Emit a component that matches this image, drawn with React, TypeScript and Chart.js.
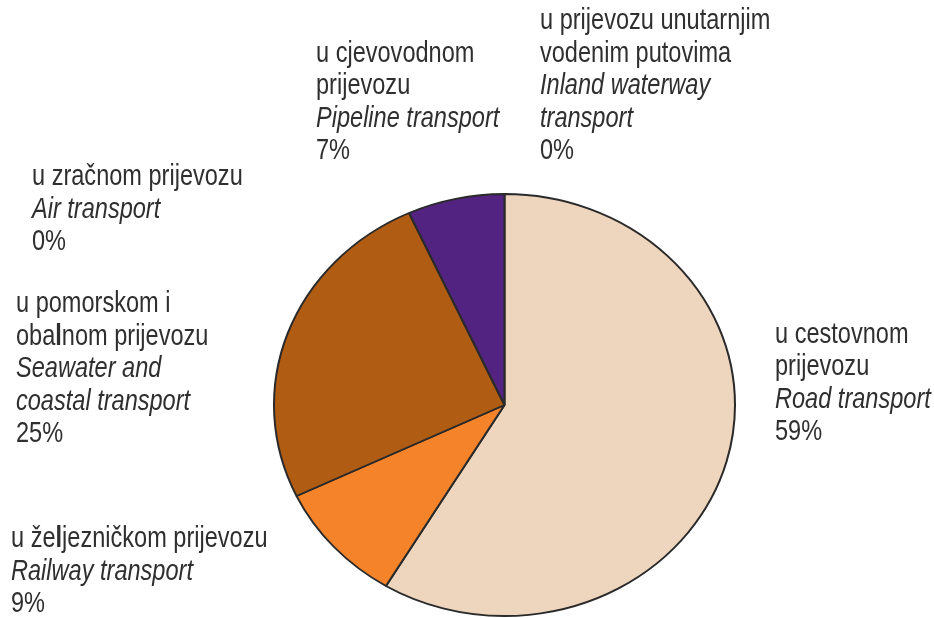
import React, { useEffect, useRef } from "react";
import { Chart, registerables } from "chart.js";

Chart.register(...registerables);

// ---- data ----
const categoriesHr = [
  "u cestovnom\nprijevozu",
  "u že*l*jezničkom prijevozu",
  "u pomorskom i\noba*l*nom prijevozu",
  "u zračnom prijevozu",
  "u cjevovodnom\nprijevozu",
  "u prijevozu unutarnjim\nvodenim putovima",
];
const categoriesEn = [
  "Road transport",
  "Railway transport",
  "Seawater and\ncoastal transport",
  "Air transport",
  "Pipeline transport",
  "Inland waterway\ntransport",
];
const shares = [58.6, 9.3, 25.3, 0, 6.8, 0];
const percentLabels = ["59%", "9%", "25%", "0%", "7%", "0%"];

// ---- styles / layout ----
const sliceColors = ["#EED5BD", "#F4832A", "#B05C12", "#B05C12", "#522380", "#EED5BD"];
const W = 934;
const H = 618;
const PIE_CX = 504.5;
const PIE_CY = 405;
const PIE_RX = 230.5;
const PIE_RY = 211;
const LABEL_POS: [number, number][] = [
  [775, 342.5],
  [11, 547],
  [16, 312],
  [32, 185],
  [316, 61.5],
  [540, 29],
];
const LINE_H = 32.5;
const FONT_PX = 30;
const X_SCALE = 0.785;
const FONT_FAMILY = "'Liberation Sans', Arial, sans-serif";
const TEXT_COLOR = "#2f2f2f";

const ellipsePlugin = {
  id: "ellipsePie",
  beforeDatasetsDraw(chart: any) {
    const ctx = chart.ctx;
    ctx.save();
    const arc = chart.getDatasetMeta(0).data[0];
    if (!arc) return;
    const { x, y, outerRadius } = arc.getProps(["x", "y", "outerRadius"], true);
    ctx.translate(PIE_CX, PIE_CY);
    ctx.scale(PIE_RX / outerRadius, PIE_RY / outerRadius);
    ctx.translate(-x, -y);
  },
  afterDatasetsDraw(chart: any) {
    chart.ctx.restore();
  },
};

function drawSegments(ctx: CanvasRenderingContext2D, text: string, x: number, y: number, italic: boolean) {
  ctx.save();
  ctx.translate(x, y);
  ctx.scale(X_SCALE, 1);
  const parts = text.split("*");
  let cursor = 0;
  parts.forEach((part, idx) => {
    if (!part) return;
    const bold = idx % 2 === 1;
    ctx.font = `${italic ? "italic " : ""}${bold ? "bold " : ""}${FONT_PX}px ${FONT_FAMILY}`;
    ctx.fillText(part, cursor, 0);
    cursor += ctx.measureText(part).width;
  });
  ctx.restore();
}

const labelsPlugin = {
  id: "pieLabels",
  afterDraw(chart: any) {
    const ctx: CanvasRenderingContext2D = chart.ctx;
    ctx.save();
    ctx.fillStyle = TEXT_COLOR;
    ctx.textBaseline = "alphabetic";
    ctx.textAlign = "left";
    const labels: string[] = chart.data.labels;
    labels.forEach((_, i) => {
      const lines: { t: string; it: boolean }[] = [];
      categoriesHr[i].split("\n").forEach((t) => lines.push({ t, it: false }));
      categoriesEn[i].split("\n").forEach((t) => lines.push({ t, it: true }));
      lines.push({ t: percentLabels[i], it: false });
      const [lx, ly] = LABEL_POS[i];
      lines.forEach((ln, k) => drawSegments(ctx, ln.t, lx, ly + k * LINE_H, ln.it));
    });
    ctx.restore();
  },
};

export default function App() {
  const canvasRef = useRef<HTMLCanvasElement | null>(null);

  useEffect(() => {
    const canvas = canvasRef.current;
    if (!canvas) return;
    const chart = new Chart(canvas, {
      type: "pie",
      data: {
        labels: categoriesEn.map((s) => s.replace("\n", " ")),
        datasets: [
          {
            data: shares,
            backgroundColor: sliceColors,
            borderColor: "#2a2a2a",
            borderWidth: 2,
          },
        ],
      },
      options: {
        responsive: false,
        animation: false,
        layout: { padding: { left: 274, right: 199, top: 150, bottom: 7 } },
        plugins: {
          legend: { display: false },
          tooltip: { enabled: false },
        },
      },
      plugins: [ellipsePlugin, labelsPlugin],
    });
    return () => chart.destroy();
  }, []);

  return (
    <div style={{ position: "fixed", left: 0, top: 0, width: W, height: H, background: "#ffffff" }}>
      <canvas ref={canvasRef} width={W} height={H} style={{ width: W, height: H }} />
    </div>
  );
}
